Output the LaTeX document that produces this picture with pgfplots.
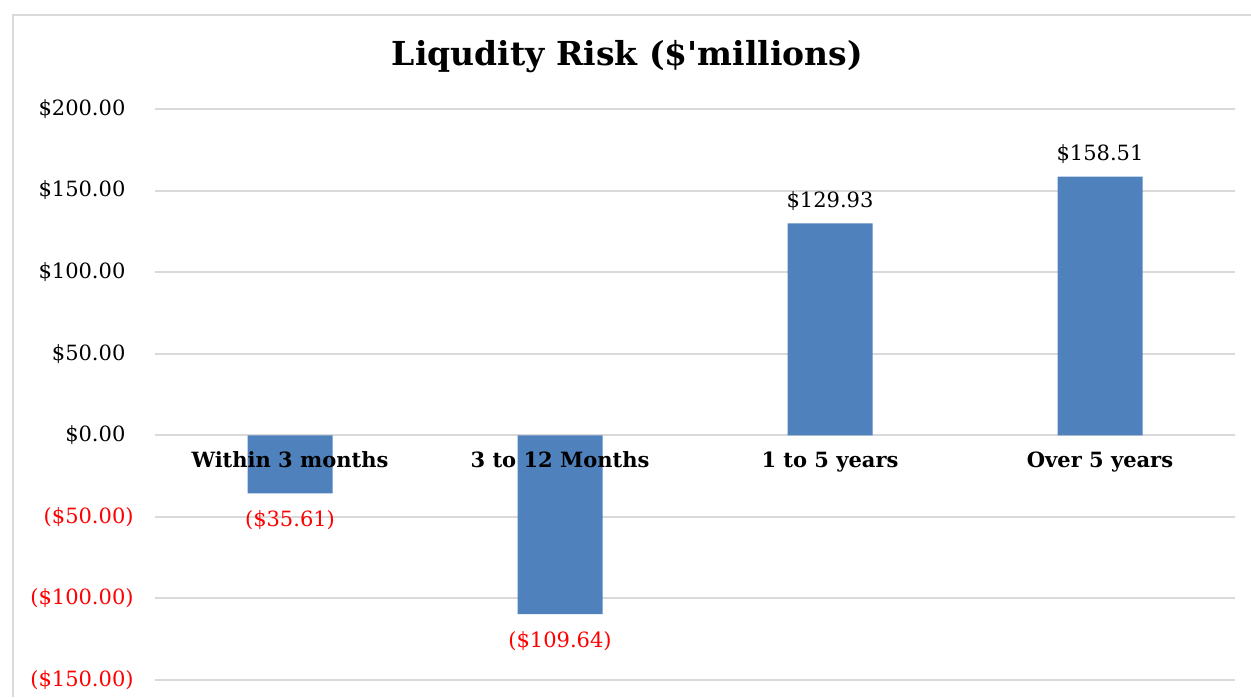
\documentclass[border=0pt]{standalone}
\usepackage{pgfplots}
\pgfplotsset{compat=1.18}
\usepackage{pgfplotstable}
\usepackage{fontspec}
\setmainfont{DejaVu Serif}
\definecolor{barblue}{HTML}{4F81BD}
\definecolor{gridgray}{HTML}{D9D9D9}
\definecolor{negred}{HTML}{FF0000}

\pgfplotsset{
  baseaxis/.style={
    at={(77.5pt,8.5pt)}, anchor=south west,
    scale only axis, width=540pt, height=285.5pt,
    xmin=-0.5, xmax=3.5, ymin=-150, ymax=200,
    axis x line*=middle, axis y line*=left,
    hide obscured x ticks=false, hide obscured y ticks=false,
    axis line style={draw=none},
    major tick length=0pt,
    /pgf/number format/assume math mode=true,
  },
}

\pgfplotstableread{
x y
0 -35.61
1 -109.64
}\negdata
\pgfplotstableread{
x y
2 129.93
3 158.51
}\posdata

\begin{document}
\begin{tikzpicture}
\useasboundingbox (0,0) rectangle (625.5pt,348.5pt);
\draw[gridgray, line width=1pt] (6.5pt,0pt) -- (6.5pt,341pt) -- (625.5pt,341pt);
\node[font=\fontsize{16.5}{19}\selectfont\bfseries] at (313.75pt,320pt) {Liqudity Risk (\$\textquotesingle millions)};
\begin{axis}[
  baseaxis,
  xtick={0,1,2,3}, xticklabels={},
  ytick={-150,-100,-50,0,50,100,150,200},
  yticklabels={{\color{negred}(\$150.00)},{\color{negred}(\$100.00)},{\color{negred}(\$50.00)},\$0.00\phantom{)},\$50.00\phantom{)},\$100.00\phantom{)},\$150.00\phantom{)},\$200.00\phantom{)}},
  yticklabel style={font=\fontsize{10.5}{12}\selectfont, anchor=east, inner sep=0pt, xshift=-10.5pt},
  ymajorgrids, grid style={gridgray, line width=1pt},
  ybar, bar width=42.5pt, bar shift=0pt,
  nodes near coords,
  every node near coord/.append style={font=\fontsize{10.5}{12}\selectfont},
]
\addplot[fill=barblue, draw=none,
  nodes near coords={\$\pgfmathprintnumber[fixed,fixed zerofill,precision=2,assume math mode=true]{\pgfplotspointmeta}},
  every node near coord/.append style={black, yshift=3pt}]
  table[x=x,y=y] {\posdata};
\addplot[fill=barblue, draw=none,
  nodes near coords={\pgfkeys{/pgf/fpu=true}\pgfmathparse{abs(\pgfplotspointmeta)}(\$\pgfmathprintnumber[fixed,fixed zerofill,precision=2,assume math mode=true]{\pgfmathresult})},
  every node near coord/.append style={negred, yshift=-5pt}]
  table[x=x,y=y] {\negdata};
\end{axis}
\begin{axis}[
  baseaxis,
  ytick=\empty,
  xtick={0,1,2,3},
  xticklabels={Within 3 months, 3 to 12 Months, 1 to 5 years, Over 5 years},
  xticklabel style={font=\fontsize{10.5}{12}\selectfont\bfseries, anchor=north, inner sep=0pt, yshift=-8pt},
]
\end{axis}
\end{tikzpicture}
\end{document}
